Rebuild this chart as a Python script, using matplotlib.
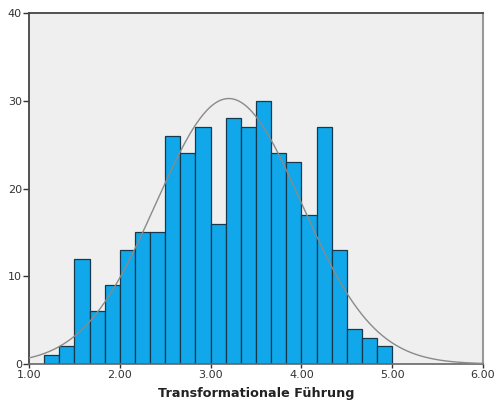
import numpy as np
import matplotlib
matplotlib.use("Agg")
import matplotlib.pyplot as plt

# Data
bin_start = 1.0 + 1/6
bin_width = 1/6
counts = [1, 2, 12, 6, 9, 13, 15, 15, 26, 24, 27, 16, 28, 27, 30, 24, 23, 17, 27, 13, 4, 3, 2]
fit_mean = 3.20
fit_sd = 0.80
x_ticks = [1.0, 2.0, 3.0, 4.0, 5.0, 6.0]
x_tick_labels = ["1.00", "2.00", "3.00", "4.00", "5.00", "6.00"]
y_ticks = [0, 10, 20, 30, 40]
x_label = "Transformationale Führung"

fig = plt.figure(figsize=(4.95, 4.11), dpi=100)
ax = fig.add_axes([29/495, 1-364/411, (483-29)/495, (364-13)/411])
ax.set_facecolor("#EFEFEF")

lefts = bin_start + bin_width * np.arange(len(counts))
ax.bar(lefts, counts, width=bin_width, align="edge", color="#10A8EA",
       edgecolor="#17394D", linewidth=0.9, zorder=2)

n = sum(counts)
xs = np.linspace(1.0, 6.0, 400)
ys = n * bin_width / (fit_sd * np.sqrt(2*np.pi)) * np.exp(-0.5*((xs-fit_mean)/fit_sd)**2)
ax.plot(xs, ys, color="#8A8A8A", linewidth=1.0, zorder=3)

ax.set_xlim(1.0, 6.0)
ax.set_ylim(0, 40)
ax.set_xticks(x_ticks)
ax.set_xticklabels(x_tick_labels)
ax.set_yticks(y_ticks)
ax.tick_params(axis="both", labelsize=8, colors="#333333", length=4, width=1, pad=1)
ax.tick_params(axis="x", length=3)

for s in ["left", "top"]:
    ax.spines[s].set_color("#444444")
    ax.spines[s].set_linewidth(1.3)
ax.spines["right"].set_color("#999999")
ax.spines["right"].set_linewidth(1.5)
ax.spines["bottom"].set_color("#666666")
ax.spines["bottom"].set_linewidth(1.2)

ax.set_xlabel(x_label, fontsize=9.2, fontweight="bold", color="#222222", labelpad=5)

fig.savefig("out.png", dpi=100)
